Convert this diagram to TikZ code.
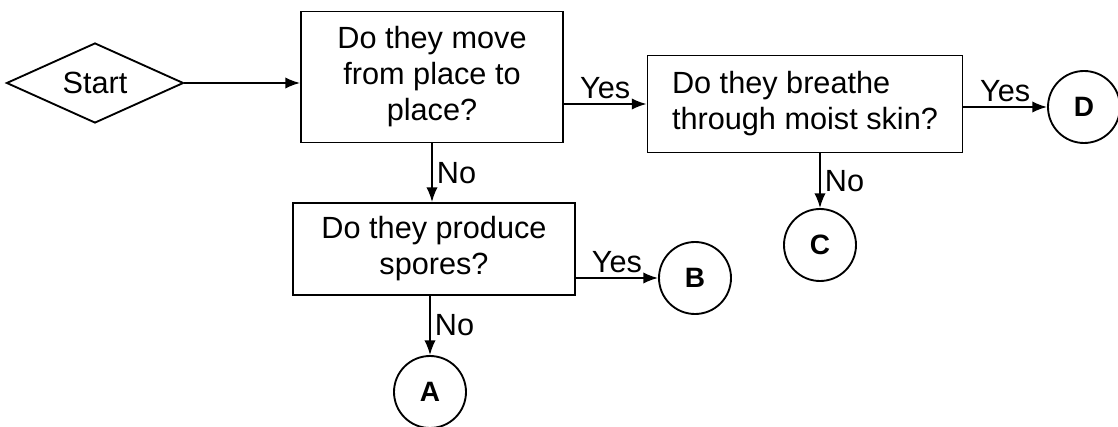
\documentclass[tikz,border=0pt]{standalone}
\usepackage{fontspec}
\setmainfont{Liberation Sans}
\usetikzlibrary{shapes.geometric,arrows.meta}

\tikzset{every picture/.style={line width=1.4pt}}

\begin{document}
\begin{tikzpicture}[x=0.75pt,y=0.75pt,yscale=-1,xscale=1,
  qbox/.style={draw, rectangle, inner sep=0pt, font=\fontsize{23}{27}\selectfont},
  endpt/.style={draw, circle, minimum size=54pt, inner sep=0pt, font=\fontsize{21}{24}\selectfont\bfseries},
  link/.style={-{Latex[length=11pt,width=8.5pt]}},
  lbl/.style={font=\fontsize{23}{27}\selectfont, inner sep=3pt}]
\useasboundingbox (0,0) rectangle (1118,427);

% Start diamond
\node[draw, diamond, aspect=2.2, inner sep=0pt, minimum width=132.75pt, minimum height=60pt, font=\fontsize{23}{27}\selectfont] (start) at (95,83) {Start};

% Question boxes
\node[qbox, align=center, minimum width=196.5pt, minimum height=98.25pt] (move) at (432,77) {Do they move\\from place to\\place?};
\node[qbox, align=left, minimum width=236.25pt, minimum height=72.75pt] (breathe) at (805,104) {Do they breathe\\through moist skin?};
\node[qbox, align=center, minimum width=211.5pt, minimum height=69pt] (spores) at (434,249) {Do they produce\\spores?};

% End circles
\node[endpt] (D) at (1084,107) {D};
\node[endpt] (C) at (820,245) {C};
\node[endpt] (B) at (695,278) {B};
\node[endpt] (A) at (430,392) {A};

% Connectors
\draw[link] (start.east) -- (start.east -| move.west);
\draw[link] (move.east |- breathe.west) -- node[lbl, above] {Yes} (breathe.west);
\draw[link] (breathe.east |- D.west) -- node[lbl, above] {Yes} (D.west);
\draw[link] (breathe.south -| C.north) -- node[lbl, right] {No} (C.north);
\draw[link] (move.south) -- node[lbl, right] {No} (move.south |- spores.north);
\draw[link] (spores.east |- B.west) -- node[lbl, above] {Yes} (B.west);
\draw[link] (spores.south -| A.north) -- node[lbl, right] {No} (A.north);

\end{tikzpicture}
\end{document}
